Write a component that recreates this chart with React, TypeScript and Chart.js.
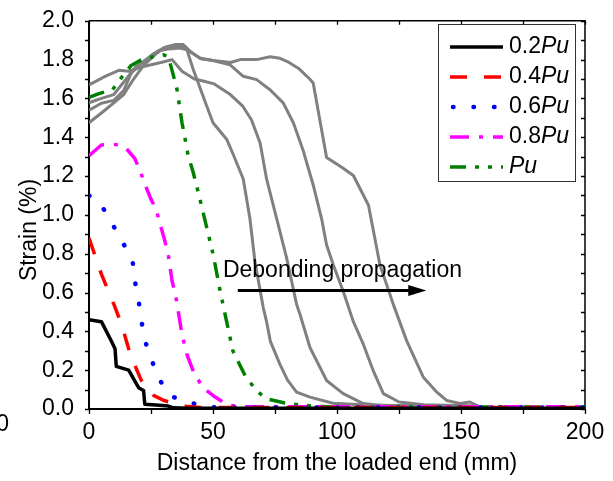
import React, { useEffect, useRef } from 'react';
import { Chart, registerables } from 'chart.js';

Chart.register(...registerables);

const FONT = '"Liberation Sans", Arial, Helvetica, sans-serif';

// ---- data (x in mm, y in %) ----
const x02 = [0, 5, 9, 10.5, 11, 16, 20, 22, 22.5, 27, 32, 34, 40, 60, 100, 150, 200];
const y02 = [0.46, 0.45, 0.35, 0.31, 0.22, 0.2, 0.11, 0.095, 0.025, 0.02, 0.015, 0.006, 0.004, 0.004, 0.004, 0.004, 0.004];

const x04 = [0, 5, 10, 13, 16, 19, 21, 23, 26, 30, 35, 39, 45, 100, 150, 200];
const y04 = [0.88, 0.695, 0.54, 0.44, 0.31, 0.21, 0.15, 0.11, 0.07, 0.045, 0.025, 0.014, 0.008, 0.008, 0.008, 0.008];

const x06 = [0, 5, 10, 13.5, 17.5, 18.5, 20, 21.2, 22.6, 25.3, 28.4, 33.3, 40.5, 48, 55, 100, 150, 200];
const y06 = [1.1, 1.05, 0.94, 0.86, 0.77, 0.66, 0.56, 0.45, 0.35, 0.25, 0.15, 0.065, 0.034, 0.01, 0.008, 0.008, 0.008, 0.008];

const x08 = [0, 5, 10, 14.5, 18.5, 20.5, 22.5, 25, 27, 28.5, 30.5, 32, 33.5, 35, 37.5, 39.5, 42.5, 46, 51, 56, 62, 100, 150, 200];
const y08 = [1.305, 1.36, 1.365, 1.35, 1.29, 1.23, 1.16, 1.08, 1.03, 0.96, 0.87, 0.79, 0.66, 0.58, 0.385, 0.28, 0.18, 0.11, 0.06, 0.02, 0.012, 0.012, 0.012, 0.012];

const xPu = [0, 4, 9.5, 12, 17, 22, 30, 32, 34, 35.5, 37.5, 40, 42, 44, 47, 50, 53, 56, 58, 63, 67.5, 71.5, 79, 86, 92, 100, 150, 200];
const yPu = [1.605, 1.625, 1.645, 1.69, 1.77, 1.805, 1.825, 1.815, 1.72, 1.645, 1.475, 1.305, 1.22, 1.12, 0.96, 0.8, 0.6, 0.42, 0.3, 0.17, 0.095, 0.053, 0.031, 0.019, 0.014, 0.01, 0.01, 0.01];

const xGrayA = [0, 6.5, 12, 16, 22, 29, 33.5, 37.5, 42.5, 46, 50.5, 57, 62, 65.5, 69, 71.6, 75.7, 79.7, 83.7, 85.1, 89.1, 95.8, 102.5, 110.6, 118, 135, 157];
const yGrayA = [1.67, 1.714, 1.745, 1.74, 1.765, 1.785, 1.8, 1.74, 1.7, 1.69, 1.675, 1.62, 1.56, 1.49, 1.37, 1.185, 0.98, 0.777, 0.54, 0.487, 0.317, 0.147, 0.079, 0.028, 0.018, 0.015, 0.012];

const xGrayB = [0, 5, 10, 15, 19, 24, 28, 32, 36.7, 39.5, 42, 47.5, 50, 55.5, 58.2, 62.2, 64.9, 66.9, 70.3, 71.6, 73.1, 77, 80, 83.7, 89.1, 98.4, 112, 135, 157];
const yGrayB = [1.578, 1.6, 1.62, 1.7, 1.765, 1.8, 1.845, 1.855, 1.86, 1.85, 1.75, 1.56, 1.475, 1.39, 1.31, 1.185, 0.98, 0.76, 0.52, 0.45, 0.35, 0.23, 0.15, 0.087, 0.061, 0.03, 0.02, 0.016, 0.012];

const xGrayC = [0, 5, 10, 14, 17, 21, 26, 30, 34, 38, 42, 45, 50, 56.9, 62.2, 67.6, 73, 78.3, 82.4, 86.4, 90.5, 93.8, 95.8, 98.5, 102.5, 106.6, 110.6, 114.6, 118.7, 125, 135, 157];
const yGrayC = [1.54, 1.575, 1.59, 1.64, 1.73, 1.78, 1.83, 1.86, 1.87, 1.865, 1.83, 1.807, 1.795, 1.773, 1.714, 1.697, 1.645, 1.577, 1.475, 1.33, 1.15, 0.98, 0.845, 0.743, 0.607, 0.45, 0.334, 0.198, 0.079, 0.036, 0.022, 0.015];

const xGrayD = [0, 5, 10, 14, 18, 22, 27, 31, 35, 38, 41, 45, 50, 57, 61, 67.6, 73, 77, 80, 84.4, 89, 90.4, 95.8, 101.9, 106.6, 112.7, 114.5, 117.3, 122.7, 128.1, 134.8, 140, 144.2, 149.6, 153.6, 157.7];
const yGrayD = [1.475, 1.525, 1.577, 1.62, 1.7, 1.77, 1.83, 1.865, 1.878, 1.878, 1.84, 1.805, 1.795, 1.785, 1.8, 1.8, 1.815, 1.807, 1.79, 1.756, 1.7, 1.68, 1.296, 1.245, 1.203, 1.05, 0.93, 0.743, 0.539, 0.351, 0.164, 0.09, 0.044, 0.028, 0.036, 0.01];

// ---- axes / labels ----
const xTickValues = [0, 50, 100, 150, 200];
const yTickValues = [0, 0.2, 0.4, 0.6, 0.8, 1.0, 1.2, 1.4, 1.6, 1.8, 2.0];
const xTickMarks = [0, 25, 50, 75, 100, 125, 150, 175, 200];
const yTickMarks = [0, 0.1, 0.2, 0.3, 0.4, 0.5, 0.6, 0.7, 0.8, 0.9, 1.0, 1.1, 1.2, 1.3, 1.4, 1.5, 1.6, 1.7, 1.8, 1.9, 2.0];
const xTitle = 'Distance from the loaded end (mm)';
const yTitle = 'Strain (%)';
const legendPrefixes = ['0.2', '0.4', '0.6', '0.8', ''];
const legendItalic = 'Pu';
const annotationText = 'Debonding propagation';
const annotationAnchor = [54, 0.678];
const arrowFrom = [60, 0.61];
const arrowTo = [136, 0.61];

const pts = (xs: number[], ys: number[]) => xs.map((x, i) => ({ x, y: ys[i] }));

const seriesStyles = [
  { color: '#000000', width: 3.5, dash: [] as number[], cap: 'butt' },
  { color: '#ff0000', width: 3.5, dash: [17, 17], cap: 'butt' },
  { color: '#0000ff', width: 4.5, dash: [0.5, 20], cap: 'round' },
  { color: '#ff00ff', width: 3.5, dash: [19, 10, 4, 10], cap: 'butt' },
  { color: '#008000', width: 3.5, dash: [16, 9, 4, 9, 4, 9], cap: 'butt' },
];

const framePlugin = {
  id: 'frameDeco',
  beforeDatasetsDraw(chart: any) {
    const { ctx, chartArea } = chart;
    const { left, right, top, bottom } = chartArea;
    const xs = chart.scales.x;
    const ys = chart.scales.y;
    ctx.save();
    ctx.strokeStyle = '#000';
    ctx.lineWidth = 1.5;
    ctx.beginPath();
    ctx.moveTo(left, top);
    ctx.lineTo(right, top);
    ctx.lineTo(right, bottom);
    ctx.stroke();
    ctx.lineWidth = 1.3;
    ctx.beginPath();
    for (const v of xTickMarks) {
      const px = Math.round(xs.getPixelForValue(v)) + 0.5;
      ctx.moveTo(px, top);
      ctx.lineTo(px, top + 4);
      ctx.moveTo(px, bottom);
      ctx.lineTo(px, bottom + 5);
    }
    for (const v of yTickMarks) {
      const py = Math.round(ys.getPixelForValue(v)) + 0.5;
      ctx.moveTo(left, py);
      ctx.lineTo(left - 4, py);
      ctx.moveTo(right, py);
      ctx.lineTo(right - 4, py);
    }
    ctx.stroke();
    ctx.lineWidth = 2;
    ctx.beginPath();
    ctx.moveTo(left, top);
    ctx.lineTo(left, bottom);
    ctx.lineTo(right, bottom);
    ctx.stroke();
    ctx.restore();
  },
  afterDraw(chart: any) {
    const { ctx, chartArea } = chart;
    const xs = chart.scales.x;
    const ys = chart.scales.y;
    ctx.save();
    ctx.fillStyle = '#000';
    // axis titles
    ctx.font = `23px ${FONT}`;
    ctx.textAlign = 'center';
    ctx.textBaseline = 'alphabetic';
    ctx.fillText(xTitle, (chartArea.left + chartArea.right) / 2, 470);
    ctx.save();
    ctx.translate(36, 230);
    ctx.rotate(-Math.PI / 2);
    ctx.fillText(yTitle, 0, 0);
    ctx.restore();
    // stray label fragment at the left edge
    ctx.textAlign = 'right';
    ctx.textBaseline = 'middle';
    ctx.fillText('0', 9, 425);

    // annotation
    ctx.textAlign = 'left';
    ctx.textBaseline = 'alphabetic';
    ctx.fillText(annotationText, xs.getPixelForValue(annotationAnchor[0]), ys.getPixelForValue(annotationAnchor[1]));
    const ax0 = xs.getPixelForValue(arrowFrom[0]);
    const ay = ys.getPixelForValue(arrowFrom[1]);
    const ax1 = xs.getPixelForValue(arrowTo[0]);
    ctx.strokeStyle = '#000';
    ctx.lineWidth = 3;
    ctx.beginPath();
    ctx.moveTo(ax0, ay);
    ctx.lineTo(ax1 - 12, ay);
    ctx.stroke();
    ctx.beginPath();
    ctx.moveTo(ax1, ay);
    ctx.lineTo(ax1 - 18, ay - 5.5);
    ctx.lineTo(ax1 - 18, ay + 5.5);
    ctx.closePath();
    ctx.fill();

    // legend
    const bx = 438.5, by = 24.5, bw = 137, bh = 157;
    ctx.fillStyle = '#fff';
    ctx.fillRect(bx, by, bw, bh);
    ctx.strokeStyle = '#333';
    ctx.lineWidth = 1;
    ctx.strokeRect(bx, by, bw, bh);
    seriesStyles.forEach((s, i) => {
      const yy = 47 + i * 30;
      ctx.save();
      ctx.strokeStyle = s.color;
      ctx.lineWidth = s.width;
      ctx.lineCap = s.cap;
      ctx.setLineDash(s.dash);
      ctx.beginPath();
      ctx.moveTo(s.cap === 'round' ? 453 : 450, yy);
      ctx.lineTo(503, yy);
      ctx.stroke();
      ctx.restore();
      ctx.fillStyle = '#000';
      ctx.textBaseline = 'middle';
      ctx.textAlign = 'left';
      ctx.font = `23px ${FONT}`;
      let tx = 509;
      const pre = legendPrefixes[i];
      if (pre) {
        ctx.fillText(pre, tx, yy);
        tx += ctx.measureText(pre).width;
      }
      ctx.font = `italic 23px ${FONT}`;
      ctx.fillText(legendItalic, tx, yy);
    });
    ctx.restore();
  },
};

export default function App() {
  const canvasRef = useRef<HTMLCanvasElement | null>(null);

  useEffect(() => {
    if (!canvasRef.current) return;
    const colorSets = [
      pts(x02, y02),
      pts(x04, y04),
      pts(x06, y06),
      pts(x08, y08),
      pts(xPu, yPu),
    ];
    const grays = [
      pts(xGrayA, yGrayA),
      pts(xGrayB, yGrayB),
      pts(xGrayC, yGrayC),
      pts(xGrayD, yGrayD),
    ];
    const datasets: any[] = [];
    colorSets.forEach((d, i) => {
      const s = seriesStyles[i];
      datasets.push({
        label: (legendPrefixes[i] || '') + legendItalic,
        data: d,
        borderColor: s.color,
        backgroundColor: s.color,
        borderWidth: s.width,
        borderDash: s.dash,
        borderCapStyle: s.cap,
        borderJoinStyle: 'round',
        pointRadius: 0,
        tension: 0,
        fill: false,
      });
    });
    grays.forEach((d) => {
      datasets.push({
        label: '',
        data: d,
        borderColor: '#808080',
        backgroundColor: '#808080',
        borderWidth: 3,
        borderJoinStyle: 'round',
        pointRadius: 0,
        tension: 0,
        fill: false,
      });
    });

    const chart = new Chart(canvasRef.current, {
      type: 'line',
      data: { datasets },
      options: {
        animation: false,
        responsive: false,
        devicePixelRatio: 1,
        layout: { padding: { left: 0, top: 17, right: 28, bottom: 0 } },
        plugins: { legend: { display: false }, tooltip: { enabled: false } },
        scales: {
          x: {
            type: 'linear',
            min: 0,
            max: 200,
            grid: { display: false },
            border: { display: false },
            afterBuildTicks: (s: any) => {
              s.ticks = xTickValues.map((v) => ({ value: v }));
            },
            afterFit: (s: any) => {
              s.height = 72;
            },
            ticks: {
              autoSkip: false,
              maxRotation: 0,
              padding: 2,
              color: '#000',
              font: { family: FONT, size: 23 },
              callback: (v: any) => String(v),
            },
          },
          y: {
            type: 'linear',
            min: 0,
            max: 2,
            grid: { display: false },
            border: { display: false },
            afterBuildTicks: (s: any) => {
              s.ticks = yTickValues.map((v) => ({ value: v }));
            },
            afterFit: (s: any) => {
              s.width = 89;
            },
            ticks: {
              autoSkip: false,
              padding: 7,
              color: '#000',
              font: { family: FONT, size: 23 },
              callback: (v: any) => Number(v).toFixed(1),
            },
          },
        },
      },
      plugins: [framePlugin],
    } as any);
    return () => chart.destroy();
  }, []);

  return (
    <div style={{ position: 'absolute', left: 0, top: 0, width: 613, height: 481, background: '#fff' }}>
      <canvas ref={canvasRef} width={613} height={481} style={{ display: 'block' }} />
    </div>
  );
}
